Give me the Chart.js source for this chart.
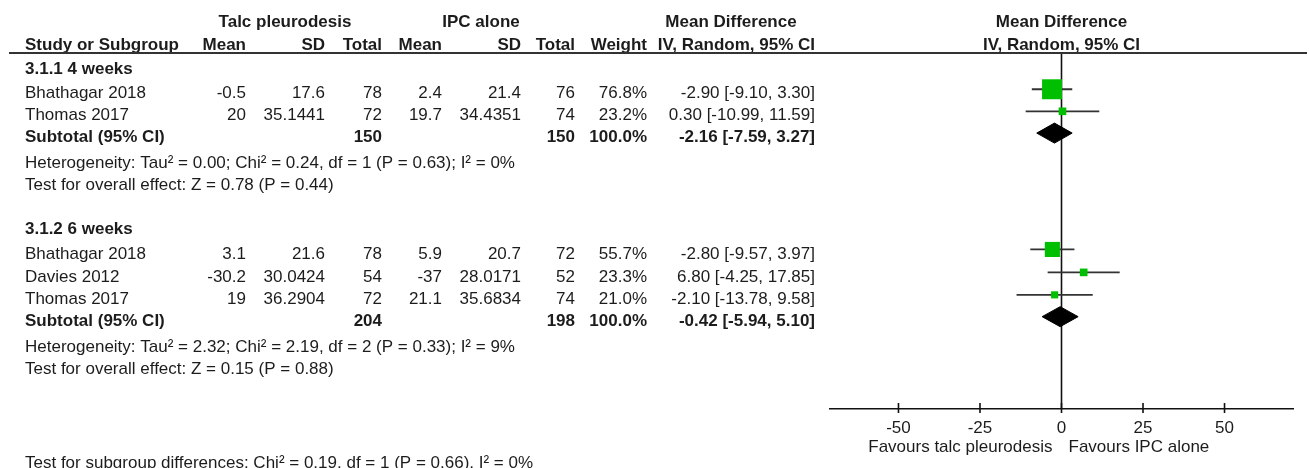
<!DOCTYPE html>
<html>
<head>
<meta charset="utf-8">
<title>Forest plot: Talc pleurodesis vs IPC alone</title>
<script src="https://cdn.jsdelivr.net/npm/chart.js@4.4.1/dist/chart.umd.min.js"></script>
<style>
  html, body { margin: 0; padding: 0; background: #ffffff; }
  #wrap { width: 1309px; height: 468px; position: relative; }
</style>
</head>
<body>
<div id="wrap"><canvas id="forest" width="1309" height="468"></canvas></div>
<script>
// ---- Study data -------------------------------------------------------
const studyNames  = ['Bhathagar 2018', 'Thomas 2017', 'Bhathagar 2018', 'Davies 2012', 'Thomas 2017'];
const talcMean    = [-0.5, 20, 3.1, -30.2, 19];
const talcSD      = [17.6, 35.1441, 21.6, 30.0424, 36.2904];
const talcTotal   = [78, 72, 78, 54, 72];
const ipcMean     = [2.4, 19.7, 5.9, -37, 21.1];
const ipcSD       = [21.4, 34.4351, 20.7, 28.0171, 35.6834];
const ipcTotal    = [76, 74, 72, 52, 74];
const studyWeight = [76.8, 23.2, 55.7, 23.3, 21.0];
const studyMD     = [-2.90, 0.30, -2.80, 6.80, -2.10];
const studyLow    = [-9.10, -10.99, -9.57, -4.25, -13.78];
const studyHigh   = [3.30, 11.59, 3.97, 17.85, 9.58];

// ---- Subgroup data ----------------------------------------------------
const subgroupNames = ['3.1.1 4 weeks', '3.1.2 6 weeks'];
const subTalcTotal  = [150, 204];
const subIpcTotal   = [150, 198];
const subWeight     = [100.0, 100.0];
const subMD         = [-2.16, -0.42];
const subLow        = [-7.59, -5.94];
const subHigh       = [3.27, 5.10];
const heterogeneity = [
  'Heterogeneity: Tau\u00B2 = 0.00; Chi\u00B2 = 0.24, df = 1 (P = 0.63); I\u00B2 = 0%',
  'Heterogeneity: Tau\u00B2 = 2.32; Chi\u00B2 = 2.19, df = 2 (P = 0.33); I\u00B2 = 9%'
];
const overallEffect = [
  'Test for overall effect: Z = 0.78 (P = 0.44)',
  'Test for overall effect: Z = 0.15 (P = 0.88)'
];
const subgroupTest = 'Test for subgroup differences: Chi\u00B2 = 0.19, df = 1 (P = 0.66), I\u00B2 = 0%';

// ---- Axis -------------------------------------------------------------
const xTicks  = [-50, -25, 0, 25, 50];
const favours = ['Favours talc pleurodesis', 'Favours IPC alone'];

// ---- Table layout (row slots in line units, column edges in px) -------
const studyRow    = [1.63, 2.62, 8.83, 9.86, 10.87];
const subtotalRow = [3.60, 11.85];
const groupRow    = [0.52, 7.71];
const hetRow      = [4.74, 13.01];
const effectRow   = [5.73, 14.00];
const headRow     = [-1.60, -0.56];
const favoursRow  = 17.52;
const footRow     = 18.22;
const ROW_MIN = 0, ROW_MAX = 16;
const TEXT_DY = 4.5;          // text sits slightly below the mark centre line
const DIAMOND_HALF = 0.45;    // half-height of summary diamonds, in row units

const FONT = "'Liberation Sans', Arial, sans-serif";
const TXT = '#1c1c1c';
const GREEN = '#00bf00';

const fmt2 = v => v.toFixed(2);
const ciText = (m, lo, hi) => `${fmt2(m)} [${fmt2(lo)}, ${fmt2(hi)}]`;

// ---- Datasets ---------------------------------------------------------
const datasets = [];

// line of no effect
datasets.push({
  type: 'line',
  data: [{ x: 0, y: ROW_MIN }, { x: 0, y: ROW_MAX }],
  borderColor: '#111', borderWidth: 1.6, pointRadius: 0, fill: false, order: 5
});

// confidence-interval whiskers
studyMD.forEach((m, i) => {
  datasets.push({
    type: 'line',
    data: [{ x: studyLow[i], y: studyRow[i] }, { x: studyHigh[i], y: studyRow[i] }],
    borderColor: '#333', borderWidth: 1.8, pointRadius: 0, fill: false, order: 4
  });
});

// weighted squares
datasets.push({
  type: 'scatter',
  data: studyMD.map((m, i) => ({ x: m, y: studyRow[i] })),
  pointStyle: 'rect',
  pointRadius: studyWeight.map(w => (2.3 + 0.23 * w) / Math.SQRT2),
  pointBackgroundColor: GREEN,
  pointBorderColor: GREEN,
  pointBorderWidth: 0,
  order: 1
});

// subtotal diamonds
subMD.forEach((m, i) => {
  const r = subtotalRow[i];
  datasets.push({
    type: 'line',
    data: [
      { x: subLow[i], y: r },
      { x: m, y: r - DIAMOND_HALF },
      { x: subHigh[i], y: r },
      { x: m, y: r + DIAMOND_HALF },
      { x: subLow[i], y: r }
    ],
    borderColor: '#000', borderWidth: 1, backgroundColor: '#000',
    pointRadius: 0, fill: 'shape', tension: 0, order: 2
  });
});

// ---- Table text and axis decorations ----------------------------------
const tablePlugin = {
  id: 'forestTable',
  afterDraw(chart) {
    const ctx = chart.ctx;
    const ys = chart.scales.y, xs = chart.scales.x;
    const py = r => ys.getPixelForValue(r) + TEXT_DY;
    const put = (txt, x, r, align, bold) => {
      ctx.font = (bold ? 'bold 17px ' : '17px ') + FONT;
      ctx.textAlign = align;
      ctx.fillText(txt, x, py(r));
    };
    ctx.save();
    ctx.fillStyle = TXT;
    ctx.textBaseline = 'middle';

    const zeroX = xs.getPixelForValue(0);

    // column headings
    put('Talc pleurodesis', 285, headRow[0], 'center', true);
    put('IPC alone', 481, headRow[0], 'center', true);
    put('Mean Difference', 731, headRow[0], 'center', true);
    put('Mean Difference', zeroX, headRow[0], 'center', true);
    put('Study or Subgroup', 25, headRow[1], 'left', true);
    put('Mean', 246, headRow[1], 'right', true);
    put('SD', 325, headRow[1], 'right', true);
    put('Total', 382, headRow[1], 'right', true);
    put('Mean', 442, headRow[1], 'right', true);
    put('SD', 521, headRow[1], 'right', true);
    put('Total', 575, headRow[1], 'right', true);
    put('Weight', 647, headRow[1], 'right', true);
    put('IV, Random, 95% CI', 815, headRow[1], 'right', true);
    put('IV, Random, 95% CI', zeroX, headRow[1], 'center', true);

    // heading rule
    ctx.strokeStyle = '#333';
    ctx.lineWidth = 2;
    ctx.beginPath();
    const ruleY = ys.getPixelForValue(ROW_MIN);
    ctx.moveTo(9, ruleY);
    ctx.lineTo(1307, ruleY);
    ctx.stroke();

    // studies
    studyNames.forEach((n, i) => {
      const r = studyRow[i];
      put(n, 25, r, 'left', false);
      put(String(talcMean[i]), 246, r, 'right', false);
      put(String(talcSD[i]), 325, r, 'right', false);
      put(String(talcTotal[i]), 382, r, 'right', false);
      put(String(ipcMean[i]), 442, r, 'right', false);
      put(String(ipcSD[i]), 521, r, 'right', false);
      put(String(ipcTotal[i]), 575, r, 'right', false);
      put(studyWeight[i].toFixed(1) + '%', 647, r, 'right', false);
      put(ciText(studyMD[i], studyLow[i], studyHigh[i]), 815, r, 'right', false);
    });

    // subgroups
    subgroupNames.forEach((n, i) => {
      put(n, 25, groupRow[i], 'left', true);
      const r = subtotalRow[i];
      put('Subtotal (95% CI)', 25, r, 'left', true);
      put(String(subTalcTotal[i]), 382, r, 'right', true);
      put(String(subIpcTotal[i]), 575, r, 'right', true);
      put(subWeight[i].toFixed(1) + '%', 647, r, 'right', true);
      put(ciText(subMD[i], subLow[i], subHigh[i]), 815, r, 'right', true);
      put(heterogeneity[i], 25, hetRow[i], 'left', false);
      put(overallEffect[i], 25, effectRow[i], 'left', false);
    });

    // tick marks crossing the axis
    ctx.strokeStyle = '#111';
    ctx.lineWidth = 1.6;
    const axisY = xs.top;
    xs.ticks.forEach(t => {
      const x = xs.getPixelForValue(t.value);
      ctx.beginPath();
      ctx.moveTo(x, axisY - 6);
      ctx.lineTo(x, axisY + 4);
      ctx.stroke();
    });

    // favours labels and footer
    put(favours[0], zeroX - 9, favoursRow, 'right', false);
    put(favours[1], zeroX + 7, favoursRow, 'left', false);
    put(subgroupTest, 25, footRow, 'left', false);
    ctx.restore();
  }
};

new Chart(document.getElementById('forest'), {
  type: 'scatter',
  data: { datasets },
  options: {
    responsive: false,
    animation: false,
    events: [],
    devicePixelRatio: 1,
    layout: { padding: { left: 830, right: 16, top: 53, bottom: 0 } },
    plugins: { legend: { display: false }, tooltip: { enabled: false } },
    scales: {
      x: {
        type: 'linear',
        position: 'bottom',
        min: -71, max: 71,
        afterBuildTicks: s => { s.ticks = xTicks.map(v => ({ value: v })); },
        afterFit: s => { s.height = 59; },
        grid: { display: false },
        border: { display: true, color: '#111', width: 1.6 },
        ticks: {
          color: TXT,
          padding: 1,
          font: { family: FONT, size: 17 },
          maxRotation: 0,
          autoSkip: false
        }
      },
      y: {
        type: 'linear',
        display: false,
        reverse: true,
        min: ROW_MIN, max: ROW_MAX
      }
    }
  },
  plugins: [tablePlugin]
});
</script>
</body>
</html>
